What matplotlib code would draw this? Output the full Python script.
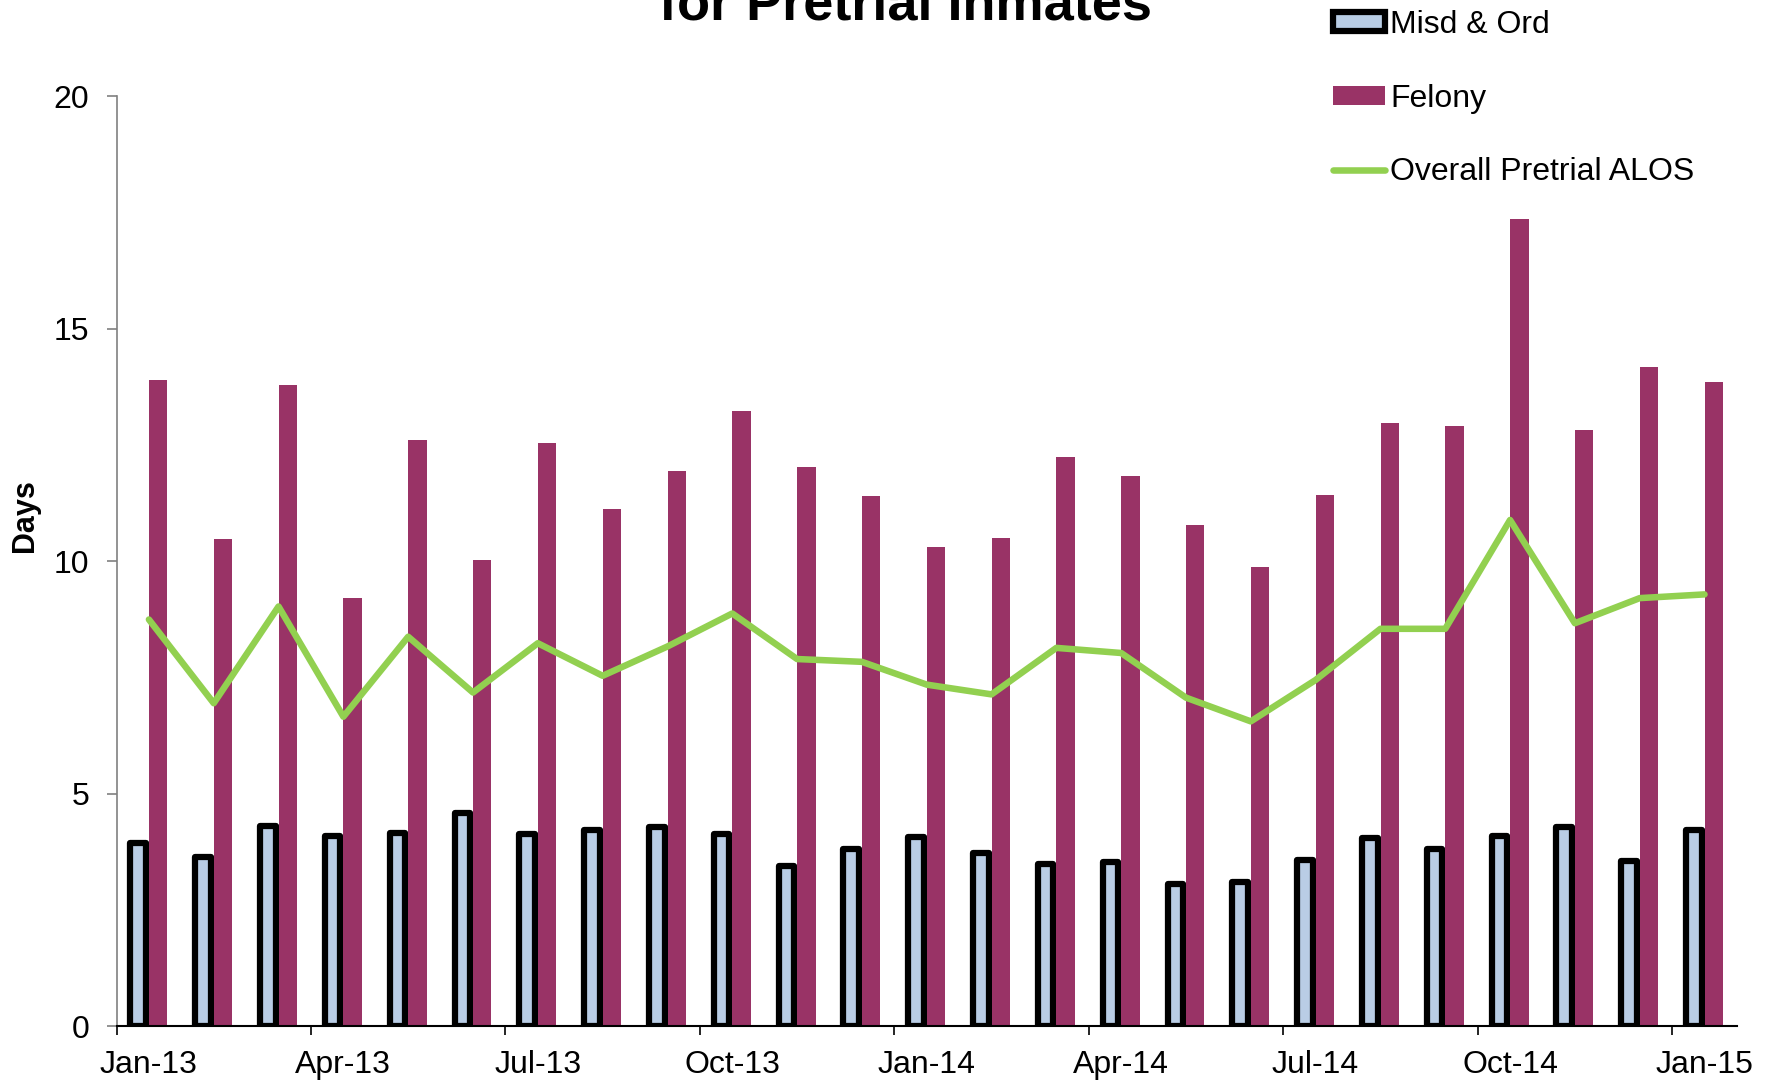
import matplotlib
matplotlib.use('Agg')
import matplotlib.pyplot as plt
import numpy as np

plt.rcParams['font.family'] = ['Liberation Sans', 'DejaVu Sans']

months = ['Jan-13', 'Feb-13', 'Mar-13', 'Apr-13', 'May-13', 'Jun-13', 'Jul-13',
          'Aug-13', 'Sep-13', 'Oct-13', 'Nov-13', 'Dec-13', 'Jan-14', 'Feb-14',
          'Mar-14', 'Apr-14', 'May-14', 'Jun-14', 'Jul-14', 'Aug-14', 'Sep-14',
          'Oct-14', 'Nov-14', 'Dec-14', 'Jan-15']
misd_ord = [3.94, 3.65, 4.31, 4.10, 4.15, 4.58, 4.13, 4.22, 4.29, 4.13, 3.45, 3.82,
            4.07, 3.74, 3.50, 3.54, 3.07, 3.10, 3.57, 4.06, 3.81, 4.10, 4.28, 3.55, 4.22]
felony = [13.90, 10.49, 13.79, 9.21, 12.61, 10.03, 12.54, 11.12, 11.95, 13.23, 12.02, 11.41,
          10.31, 10.50, 12.25, 11.83, 10.79, 9.88, 11.42, 12.97, 12.92, 17.37, 12.83, 14.17, 13.86]
overall = [8.75, 6.95, 9.03, 6.66, 8.38, 7.18, 8.24, 7.54, 8.17, 8.88, 7.90, 7.84,
           7.35, 7.14, 8.14, 8.03, 7.07, 6.56, 7.45, 8.55, 8.55, 10.89, 8.67, 9.21, 9.29]
yticks = [0, 5, 10, 15, 20]

fig = plt.figure(figsize=(17.76, 10.83), dpi=100)
ax = fig.add_axes([0.0656, 0.0522, 0.9124, 0.8589])

x = np.arange(len(months))
b1 = ax.bar(x - 0.165, misd_ord, 0.24, color='#B9CDE5', edgecolor='black', linewidth=4.5,
            joinstyle='round', label='Misd & Ord', zorder=2)
b2 = ax.bar(x + 0.143, felony, 0.283, color='#993366', label='Felony', zorder=2)
l1, = ax.plot(x, overall, color='#92D050', lw=4.7, label='Overall Pretrial ALOS', zorder=3,
              solid_capstyle='round')

ax.set_xlim(-0.5, len(months) - 0.5)
ax.set_ylim(0, 20)
ax.set_yticks(yticks)
ax.set_xticks(x[::3])
ax.set_xticklabels(months[::3])
ax.set_xticks(np.arange(-0.5, len(months) - 1, 3), minor=True)
ax.tick_params(axis='x', which='major', length=0, pad=17, labelsize=23)
ax.tick_params(axis='x', which='minor', length=6.5, width=1.2, direction='out')
ax.tick_params(axis='y', length=7.5, pad=12, width=1.2, color='#808080', labelsize=23)

for s in ['top', 'right']:
    ax.spines[s].set_visible(False)
ax.spines['left'].set_color('#808080')
ax.spines['left'].set_linewidth(1.2)
ax.spines['bottom'].set_color('black')
ax.spines['bottom'].set_linewidth(1.5)

fig.text(25 / 1776, 1 - 516 / 1083, 'Days', rotation=90, fontsize=22,
         fontweight='bold', ha='center', va='center')
fig.text(0.510, 1 - 19 / 1083, 'for Pretrial Inmates', fontsize=39,
         fontweight='bold', ha='center', va='baseline')

ax.legend(handles=[b1, b2, l1], loc='upper left', bbox_to_anchor=(0.7506, 0.991),
          bbox_transform=fig.transFigure, frameon=False, fontsize=23, borderpad=0,
          borderaxespad=0, handlelength=1.64, handleheight=0.54, handletextpad=0.15,
          labelspacing=1.37)

fig.savefig('out.png', dpi=100)
